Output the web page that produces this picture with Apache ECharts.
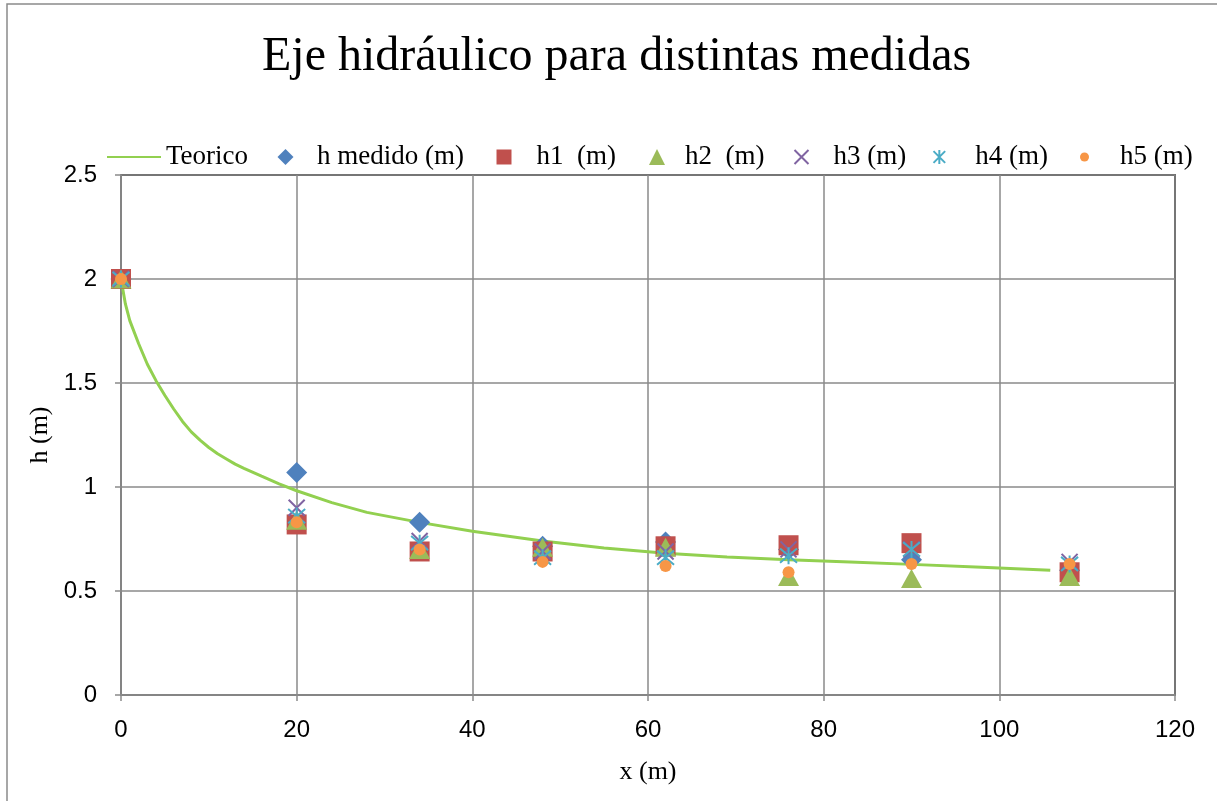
<!DOCTYPE html>
<html><head><meta charset="utf-8">
<script src="https://cdn.jsdelivr.net/npm/echarts@6/dist/echarts.min.js"></script>
<style>html,body{margin:0;padding:0;background:#fff}#c{width:1217px;height:801px}</style>
</head><body><div id="c"></div>
<script>
// ---- data ----
const chartTitle = 'Eje hidráulico para distintas medidas';
const xName = 'x (m)';
const yName = 'h (m)';
const xPositions = [0, 20, 34, 48, 62, 76, 90, 108];
const hMedido = [2.0, 1.07, 0.83, 0.715, 0.735, 0.70, 0.65, 0.60];
const h1 = [2.0, 0.82, 0.69, 0.69, 0.715, 0.72, 0.73, 0.59];
const h2 = [2.0, 0.84, 0.70, 0.71, 0.71, 0.57, 0.56, 0.57];
const h3 = [2.0, 0.90, 0.74, 0.69, 0.69, 0.70, 0.70, 0.64];
const h4 = [2.0, 0.86, 0.73, 0.66, 0.66, 0.67, 0.70, 0.63];
const h5 = [2.0, 0.83, 0.70, 0.64, 0.62, 0.59, 0.63, 0.63];
const teoricoX = [0, 0.5, 1, 2, 3, 4, 5, 6, 7, 8, 9, 10, 11, 12, 13, 14, 16, 18, 20, 24, 28, 34, 40, 48, 55, 62, 69, 76, 83, 90, 98, 105.8];
const teoricoH = [2.0, 1.88, 1.80, 1.69, 1.59, 1.51, 1.44, 1.375, 1.315, 1.265, 1.225, 1.19, 1.16, 1.135, 1.11, 1.09, 1.052, 1.015, 0.982, 0.925, 0.878, 0.83, 0.787, 0.74, 0.707, 0.682, 0.663, 0.65, 0.64, 0.628, 0.614, 0.60];
const seriesNames = ['Teorico', 'h medido (m)', 'h1  (m)', 'h2  (m)', 'h3 (m)', 'h4 (m)', 'h5 (m)'];

// ---- chart ----
const serif = 'Liberation Serif, Times New Roman, serif';
const sans = 'Liberation Sans, Arial, sans-serif';
const pair = (xs, ys) => xs.map((x, i) => [x, ys[i]]);

const colors = ['#92D050', '#4F81BD', '#C0504D', '#9BBB59', '#8064A2', '#4BACC6', '#F79646'];
const crossPath = 'path://M0 0L10 10M10 0L0 10';
const starPath = 'path://M0 0L10 10M10 0L0 10M5 -1L5 11';

function legendAt(item, left, w, h, padLeft) {
  return {
    data: [item], left: left, top: 143.5, itemWidth: w, itemHeight: h, padding: 0, itemGap: 0,
    textStyle: { fontFamily: serif, fontSize: 27, color: '#000', padding: [0, 0, 0, padLeft] }
  };
}

const chart = echarts.init(document.getElementById('c'), null, { renderer: 'canvas' });
chart.setOption({
  backgroundColor: '#fff',
  animation: false,
  title: {
    text: chartTitle, left: 257, top: 28,
    textStyle: { fontFamily: serif, fontSize: 48, fontWeight: 'normal', color: '#000' }
  },
  graphic: [{
    type: 'rect', shape: { x: 7, y: 4, width: 1300, height: 900 },
    style: { fill: 'none', stroke: '#8a8a8a', lineWidth: 1.5 }, silent: true
  }],
  legend: [
    legendAt({ name: seriesNames[0], itemStyle: { opacity: 0 } }, 106, 54, 14, 0),
    legendAt(seriesNames[1], 277.5, 16, 16, 18.5),
    legendAt(seriesNames[2], 496.5, 15, 15, 20),
    legendAt(seriesNames[3], 649, 16, 16, 15),
    legendAt(seriesNames[4], 792, 14, 14, 20),
    legendAt(seriesNames[5], 931, 14, 14, 24),
    legendAt(seriesNames[6], 1080, 9, 9, 26)
  ],
  grid: { left: 121, right: 42, top: 175, bottom: 106, show: true, borderColor: '#000', borderWidth: 1.5, containLabel: false },
  xAxis: {
    type: 'value', min: 0, max: 120, interval: 20,
    name: xName, nameLocation: 'middle', nameGap: 64,
    nameTextStyle: { fontFamily: serif, fontSize: 26, color: '#000' },
    axisLine: { show: true, lineStyle: { color: '#8a8a8a', width: 1.5 } },
    axisTick: { show: true, inside: false, length: 6, lineStyle: { color: '#8a8a8a', width: 1.5 } },
    axisLabel: { margin: 23, fontFamily: sans, fontSize: 24, color: '#000' },
    splitLine: { show: true, lineStyle: { color: '#8a8a8a', width: 1.5 } }
  },
  yAxis: {
    type: 'value', min: 0, max: 2.5, interval: 0.5,
    name: yName, nameLocation: 'middle', nameGap: 66, nameRotate: 90,
    nameTextStyle: { fontFamily: serif, fontSize: 26, color: '#000' },
    axisLine: { show: true, lineStyle: { color: '#8a8a8a', width: 1.5 } },
    axisTick: { show: true, inside: false, length: 6, lineStyle: { color: '#8a8a8a', width: 1.5 } },
    axisLabel: { margin: 24, fontFamily: sans, fontSize: 24, color: '#000' },
    splitLine: { show: true, lineStyle: { color: '#8a8a8a', width: 1.5 } }
  },
  series: [
    { name: seriesNames[0], type: 'line', data: pair(teoricoX, teoricoH), showSymbol: false, symbol: 'none',
      smooth: false, lineStyle: { color: colors[0], width: 3 }, itemStyle: { color: colors[0] }, z: 1 },
    { name: seriesNames[1], type: 'scatter', data: pair(xPositions, hMedido), symbol: 'diamond', symbolSize: 21,
      itemStyle: { color: colors[1], opacity: 1 }, z: 2 },
    { name: seriesNames[2], type: 'scatter', data: pair(xPositions, h1), symbol: 'rect', symbolSize: 20,
      itemStyle: { color: colors[2], opacity: 1 }, z: 3 },
    { name: seriesNames[3], type: 'scatter', data: pair(xPositions, h2), symbol: 'triangle', symbolSize: [21, 19],
      itemStyle: { color: colors[3], opacity: 1 }, z: 4 },
    { name: seriesNames[4], type: 'scatter', data: pair(xPositions, h3), symbol: crossPath, symbolSize: 16,
      itemStyle: { color: 'none', borderColor: colors[4], borderWidth: 2, opacity: 1 }, z: 5 },
    { name: seriesNames[5], type: 'scatter', data: pair(xPositions, h4), symbol: starPath, symbolSize: 17,
      itemStyle: { color: 'none', borderColor: colors[5], borderWidth: 2, opacity: 1 }, z: 6 },
    { name: seriesNames[6], type: 'scatter', data: pair(xPositions, h5), symbol: 'circle', symbolSize: 12,
      itemStyle: { color: colors[6], opacity: 1 }, z: 7 }
  ]
});
</script></body></html>
